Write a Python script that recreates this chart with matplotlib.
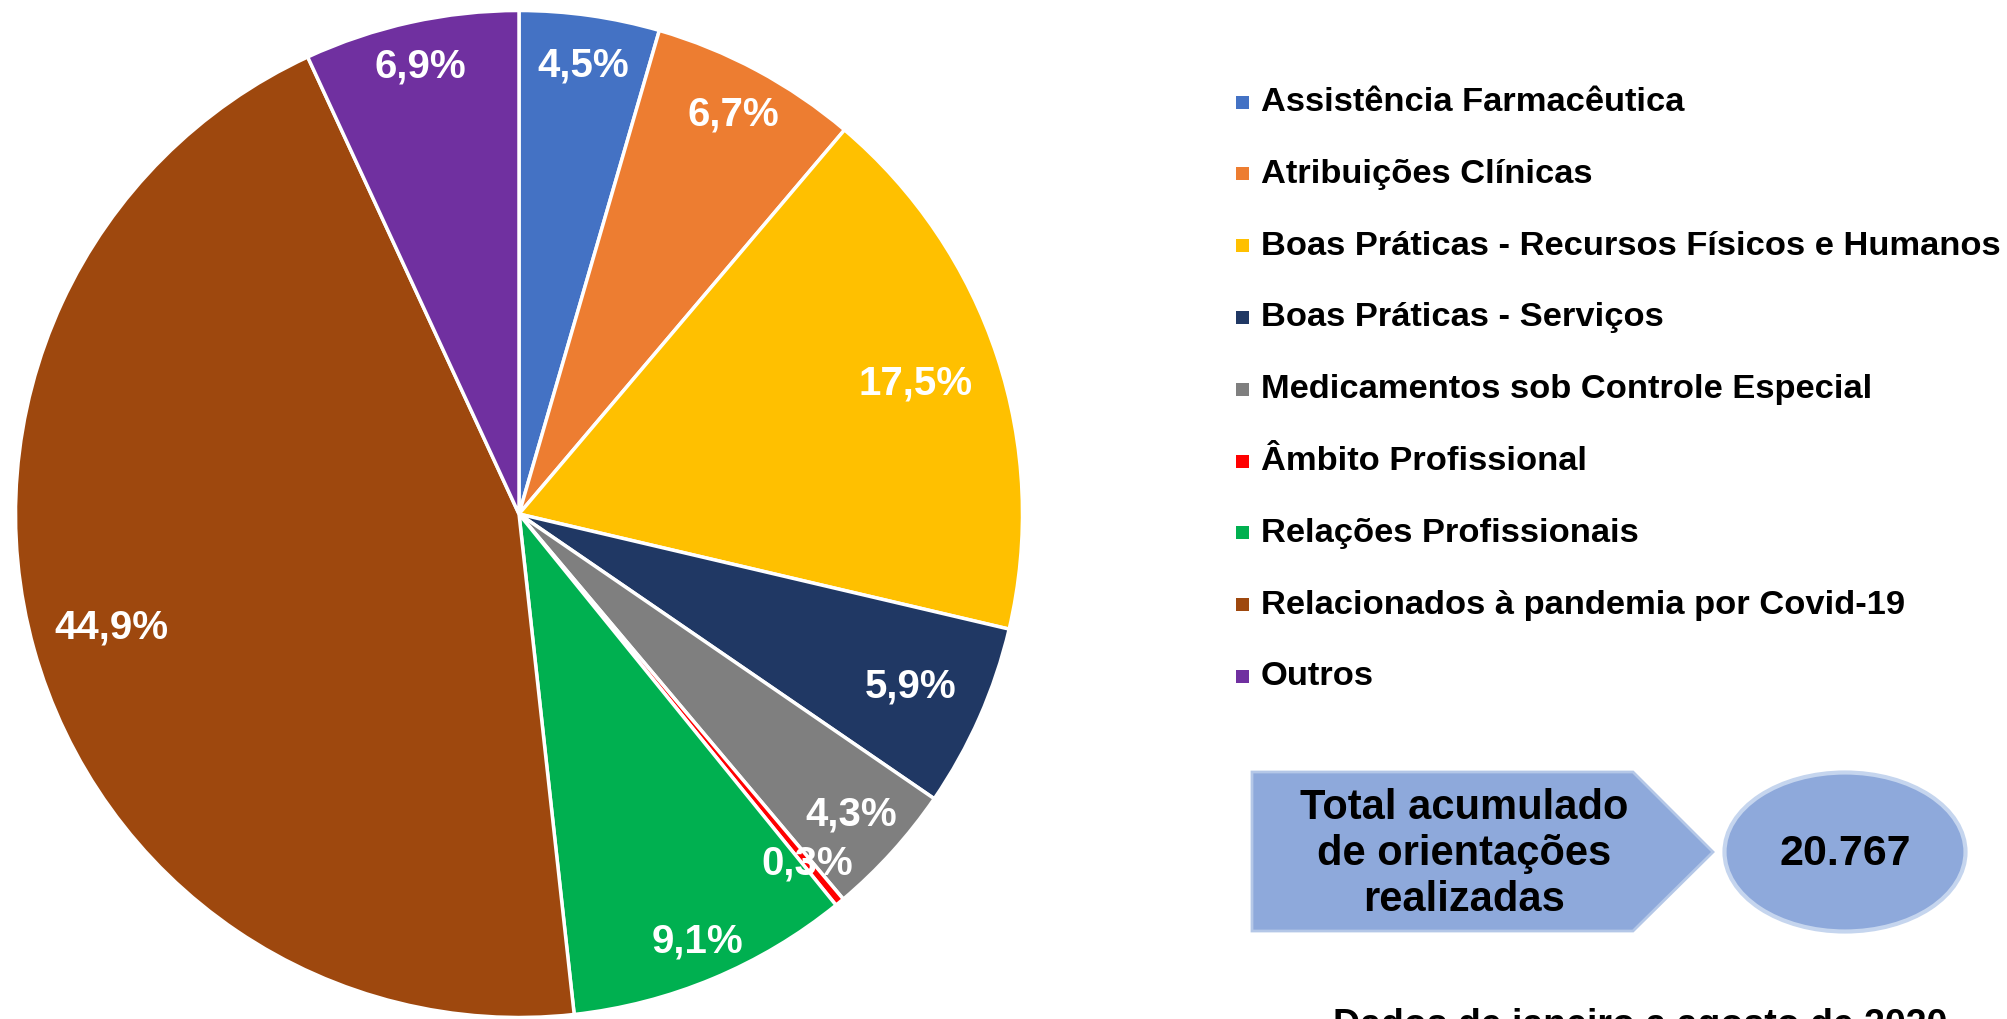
import numpy as np
import matplotlib
matplotlib.use("Agg")
import matplotlib.pyplot as plt
from matplotlib.patches import Polygon, Ellipse, Rectangle

plt.rcParams['font.family'] = ['Liberation Sans', 'DejaVu Sans']
plt.rcParams['font.weight'] = 'bold'

# data
categories = ['Assistência Farmacêutica', 'Atribuições Clínicas',
              'Boas Práticas - Recursos Físicos e Humanos', 'Boas Práticas - Serviços',
              'Medicamentos sob Controle Especial', 'Âmbito Profissional',
              'Relações Profissionais', 'Relacionados à pandemia por Covid-19', 'Outros']
values = [4.5, 6.7, 17.5, 5.9, 4.3, 0.3, 9.1, 44.9, 6.9]
colors = ['#4472C4', '#ED7D31', '#FFC000', '#203864', '#7F7F7F',
          '#FF0000', '#00B050', '#9E480E', '#7030A0']
label_r = [0.90, 0.90, 0.83, 0.85, 0.89, 0.90, 0.92, 0.84, 0.91]
total_text = 'Total acumulado\nde orientações\nrealizadas'
total_value = '20.767'
footer = 'Dados de janeiro a agosto de 2020'

W, H = 2008, 1019
fig = plt.figure(figsize=(W / 100, H / 100), dpi=100)

# pie, center (519, 514) px, radius 505 px
cx, cy, r = 519, 514, 505
ax = fig.add_axes([(cx - r) / W, (H - cy - r) / H, 2 * r / W, 2 * r / H])
wedges, _ = ax.pie(values, colors=colors, startangle=90, counterclock=False,
                   wedgeprops=dict(edgecolor='white', linewidth=2.5))
for w, v, lr in zip(wedges, values, label_r):
    ang = np.deg2rad((w.theta1 + w.theta2) / 2)
    ax.text(lr * np.cos(ang), lr * np.sin(ang), f'{v:.1f}%'.replace('.', ','),
            ha='center', va='center', color='white', fontsize=29, fontweight='bold')
ax.set_xlim(-1.003, 1.003)
ax.set_ylim(-1.003, 1.003)
ax.set_aspect('auto')
ax.axis('off')

# overlay in pixel coords
ov = fig.add_axes([0, 0, 1, 1], zorder=-1)
ov.set_xlim(0, W)
ov.set_ylim(H, 0)
ov.axis('off')

# legend
for i, (c, lab) in enumerate(zip(colors, categories)):
    y = 102.5 + i * 71.8
    ov.add_patch(Rectangle((1236, y - 7), 13, 13, facecolor=c, edgecolor='none'))
    ov.text(1261, y, lab, ha='left', va='center', fontsize=24.8, fontweight='bold')

# arrow box
ov.add_patch(Polygon([(1252, 772), (1633, 772), (1713, 852), (1633, 931), (1252, 931)],
                     closed=True, facecolor='#8EA9DB', edgecolor='#B4C7E7', linewidth=2))
ov.text(1464, 854, total_text, ha='center', va='center', fontsize=30,
        fontweight='bold', linespacing=1.2)

# ellipse
ov.add_patch(Ellipse((1845, 852), 241, 159, facecolor='#8EA9DB',
                     edgecolor='#C5D5EE', linewidth=3))
ov.text(1845, 854, total_value, ha='center', va='center', fontsize=31, fontweight='bold')

# footer (cut off at the bottom edge, as in the source)
ov.text(1640, 1036, footer, ha='center', va='baseline', fontsize=27,
        fontweight='bold', clip_on=False)

fig.savefig('out.png', dpi=100)
